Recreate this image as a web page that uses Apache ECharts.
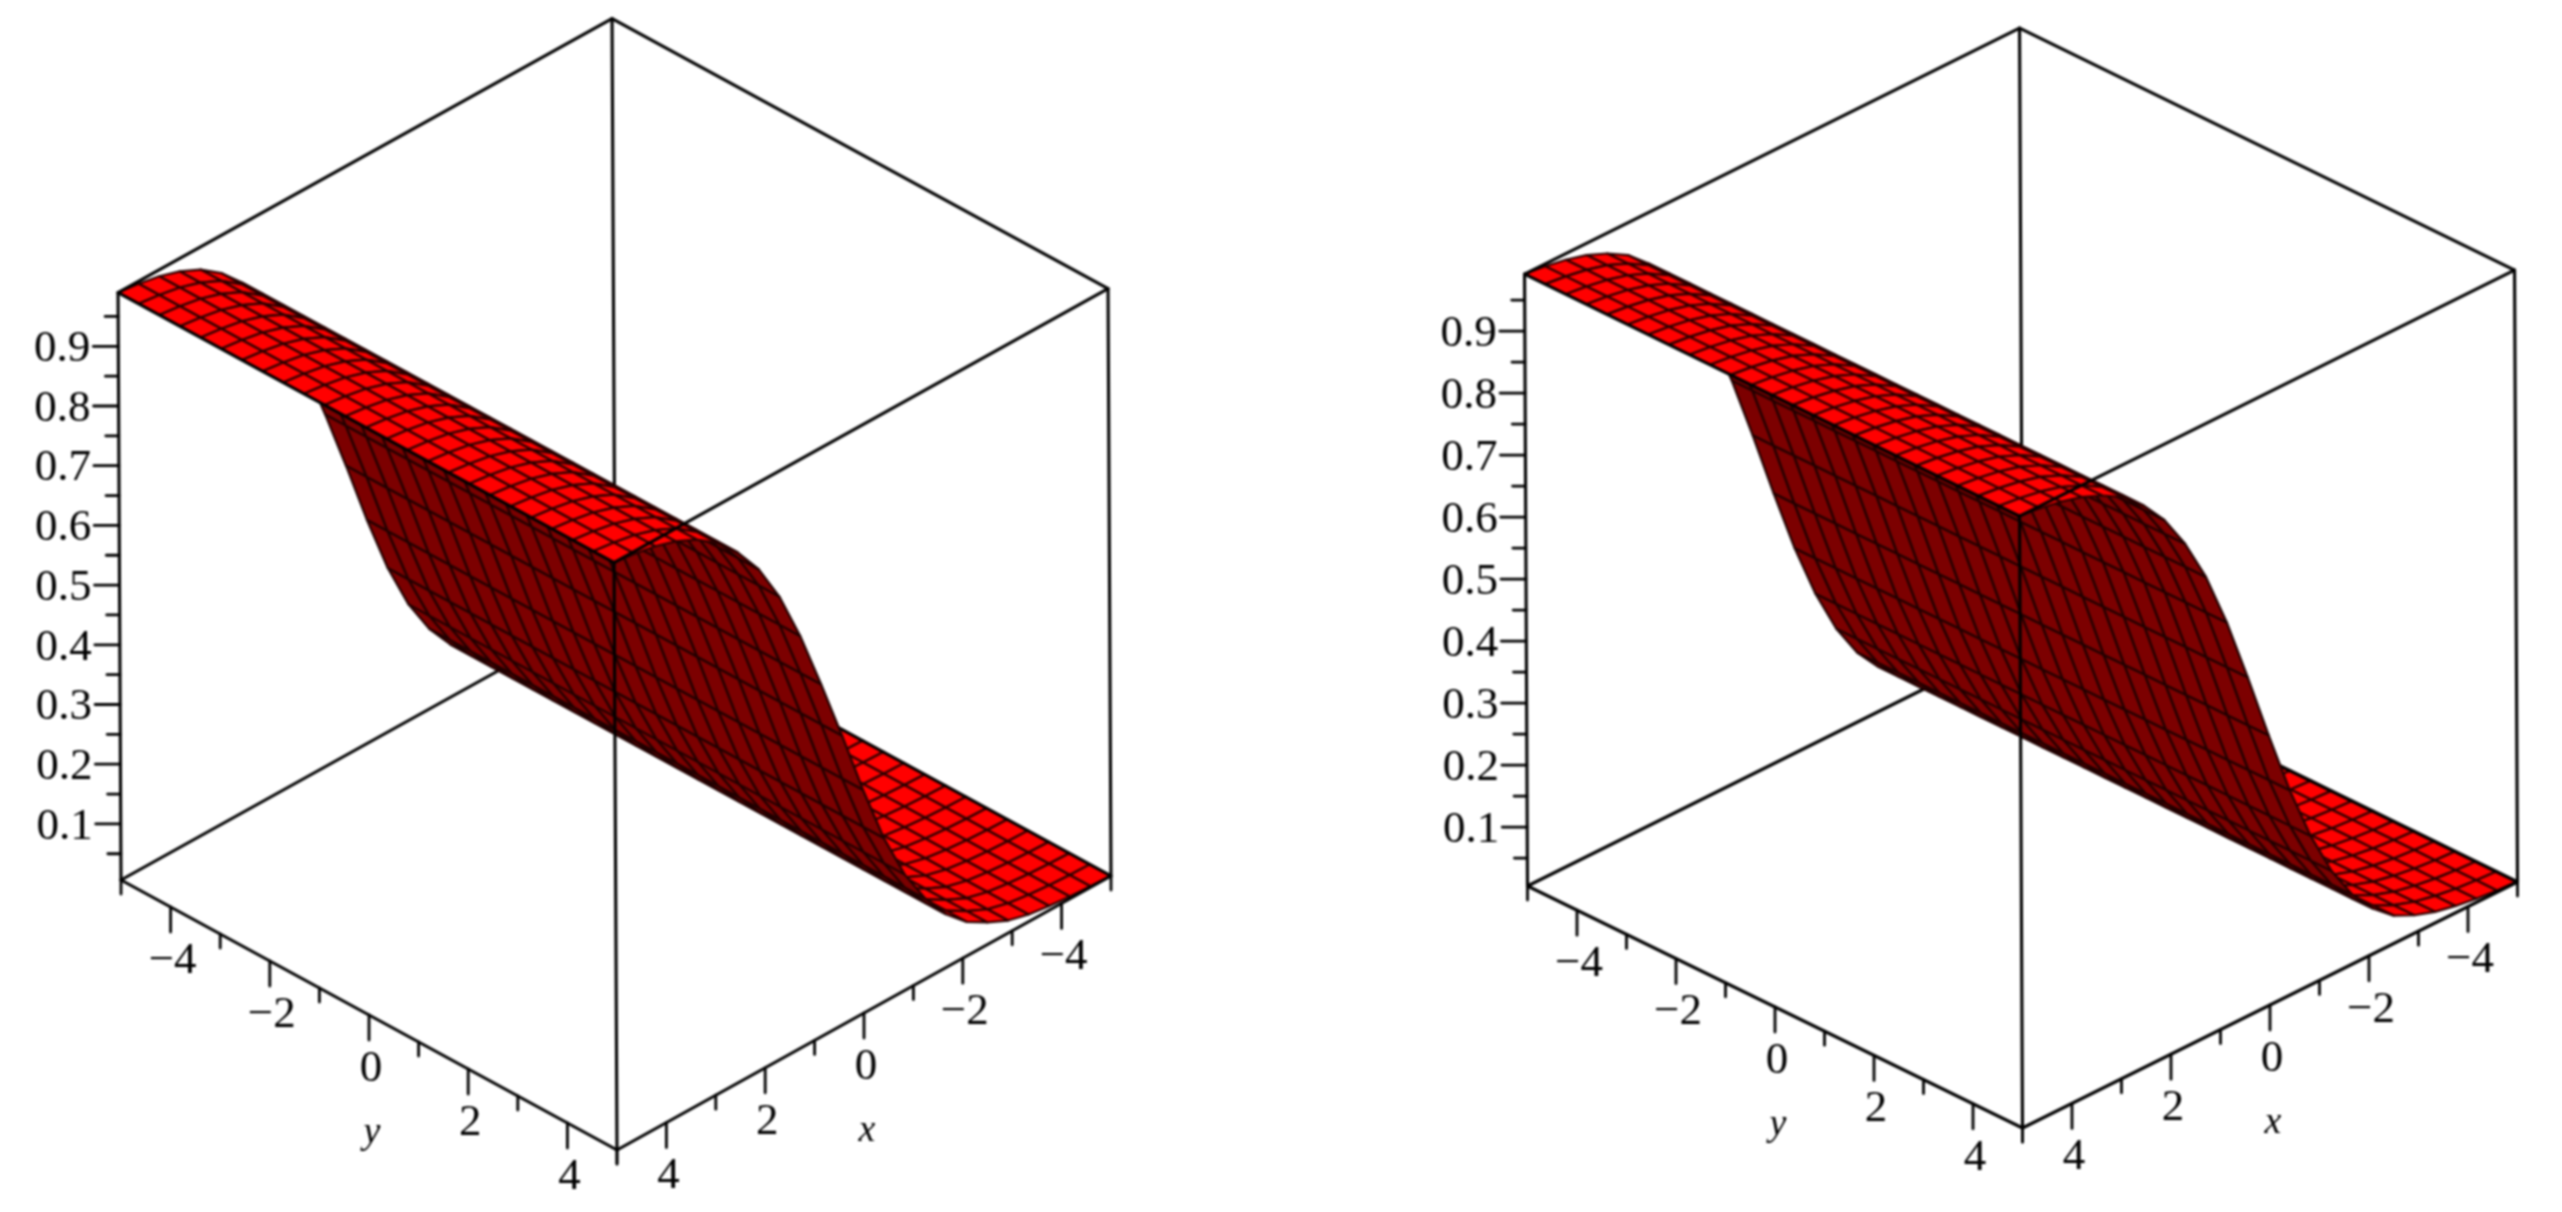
<!DOCTYPE html>
<html><head><meta charset="utf-8">
<style>html,body{margin:0;padding:0;background:#fff;overflow:hidden}#c{width:2562px;height:1212px;filter:blur(0.9px)}</style>
<script src="https://cdn.jsdelivr.net/npm/echarts@6/dist/echarts.min.js"></script>
</head><body><div id="c"></div>
<script>
// ---- values ----
const xGrid = [-5,-4.583,-4.167,-3.75,-3.333,-2.917,-2.5,-2.083,-1.667,-1.25,-0.833,-0.417,0,0.417,0.833,1.25,1.667,2.083,2.5,2.917,3.333,3.75,4.167,4.583,5];
const yGrid = [-5,-4.583,-4.167,-3.75,-3.333,-2.917,-2.5,-2.083,-1.667,-1.25,-0.833,-0.417,0,0.417,0.833,1.25,1.667,2.083,2.5,2.917,3.333,3.75,4.167,4.583,5];
const zLeft  = [0.007,0.008,0.010,0.013,0.018,0.027,0.043,0.063,0.095,0.140,0.200,0.280,0.380,0.490,0.595,0.695,0.780,0.845,0.892,0.927,0.952,0.968,0.979,0.9855,0.990];
const zRight = [0.006,0.008,0.011,0.016,0.023,0.034,0.050,0.078,0.117,0.172,0.245,0.335,0.440,0.550,0.655,0.745,0.815,0.870,0.910,0.940,0.959,0.973,0.982,0.988,0.992];
const zMajor = [0.1,0.2,0.3,0.4,0.5,0.6,0.7,0.8,0.9];
const zMinor = [0.05,0.15,0.25,0.35,0.45,0.55,0.65,0.75,0.85,0.95];
const hMajor = [-4,-2,0,2,4];
const hMinor = [-5,-3,-1,1,3,5];

// ---- view of each box on the page ----
const views = [
  {F:[617,1150],L:[121,880],R:[1111,876],zs:[-3,-597],z0:0.006,z1:0.990,prof:zLeft},
  {F:[2022.5,1128],L:[1527.5,886],R:[2517.5,882],zs:[-3,-620],z0:0.005,z1:0.992,prof:zRight}
];
const MAJ=25, MIN=14, ZMAJ=25, ZMIN=13, LBL=[2,54], TITLE=[3,118];

function projector(v){
  const ax=[(v.R[0]-v.F[0])/10,(v.R[1]-v.F[1])/10], ay=[(v.L[0]-v.F[0])/10,(v.L[1]-v.F[1])/10];
  return (x,y,z)=>[v.F[0]+(5-x)*ax[0]+(5-y)*ay[0]+(z-v.z0)*v.zs[0],
                   v.F[1]+(5-x)*ax[1]+(5-y)*ay[1]+(z-v.z0)*v.zs[1]];
}
const series=[];
function segSeries(segs,z,width){
  series.push({type:'custom',coordinateSystem:'cartesian2d',silent:true,z:z,clip:false,animation:false,
    data:segs,
    renderItem(p,api){
      const a=api.coord([api.value(0),api.value(1)]), b=api.coord([api.value(2),api.value(3)]);
      return {type:'line',shape:{x1:a[0],y1:a[1],x2:b[0],y2:b[1]},style:{stroke:'#000',lineWidth:api.value(4)||width,lineCap:'round'}};
    }});
}
views.forEach(v=>{
  const P=projector(v), t=v.z1, b=v.z0;
  const corners={F:[5,5],L:[5,-5],R:[-5,5],B:[-5,-5]};
  const C=(k,z)=>P(corners[k][0],corners[k][1],z);
  const seg=(a,c,w)=>[a[0],a[1],c[0],c[1],w||3.1];
  // back edges, under the surface
  segSeries([seg(C('B',b),C('L',b)),seg(C('B',b),C('B',t))],1);
  // surface painted back to front
  const cells=[];
  for(let i=0;i<xGrid.length-1;i++){
    for(let j=0;j<yGrid.length-1;j++){
      const a=P(xGrid[i],yGrid[j],v.prof[i]),c=P(xGrid[i+1],yGrid[j],v.prof[i+1]),
            d=P(xGrid[i+1],yGrid[j+1],v.prof[i+1]),e=P(xGrid[i],yGrid[j+1],v.prof[i]);
      cells.push([a[0],a[1],c[0],c[1],d[0],d[1],e[0],e[1],0]);
    }
    if(i===0){ const s=C('B',b),r=C('R',b); cells.push([s[0],s[1],r[0],r[1],s[0],s[1],r[0],r[1],1]); }
  }
  const refArea=(()=>{const a=P(-5,-5,0),c=P(-4,-5,0),d=P(-4,-4,0);return Math.sign((c[0]-a[0])*(d[1]-a[1])-(c[1]-a[1])*(d[0]-a[0]));})();
  series.push({type:'custom',coordinateSystem:'cartesian2d',silent:true,z:2,clip:false,animation:false,data:cells,
    renderItem(p,api){
      const pts=[0,2,4,6].map(k=>api.coord([api.value(k),api.value(k+1)]));
      if(api.value(8)===1) return {type:'line',shape:{x1:pts[0][0],y1:pts[0][1],x2:pts[1][0],y2:pts[1][1]},style:{stroke:'#000',lineWidth:3.1}};
      const area=(pts[1][0]-pts[0][0])*(pts[2][1]-pts[0][1])-(pts[1][1]-pts[0][1])*(pts[2][0]-pts[0][0]);
      const top=Math.sign(area)===refArea;
      return {type:'polygon',shape:{points:pts},style:{fill:top?'#ff0000':'#7c0000',stroke:top?'#280000':'#200000',lineWidth:2.2,lineJoin:'round'}};
    }});
  // front edges and ticks
  const front=[seg(C('L',t),C('B',t)),seg(C('R',t),C('B',t)),seg(C('L',t),C('F',t)),seg(C('R',t),C('F',t)),
    seg(C('L',t),C('L',b)),seg(C('R',t),C('R',b)),seg(C('F',t),C('F',b)),seg(C('L',b),C('F',b)),seg(C('R',b),C('F',b))];
  const down=(p,len)=>seg(p,[p[0],p[1]+len],2.8);
  const left=(p,len)=>seg(p,[p[0]-len,p[1]],2.8);
  hMajor.forEach(h=>{front.push(down(P(5,h,b),MAJ));front.push(down(P(h,5,b),MAJ));});
  hMinor.forEach(h=>{front.push(down(P(5,h,b),MIN));front.push(down(P(h,5,b),MIN));});
  zMajor.forEach(z=>front.push(left(P(5,-5,z),ZMAJ)));
  zMinor.forEach(z=>front.push(left(P(5,-5,z),ZMIN)));
  segSeries(front,3);
  // text
  const texts=[];
  zMajor.forEach(z=>{const p=P(5,-5,z);texts.push({x:p[0]-28,y:p[1]+3,s:z.toFixed(1),a:'right',st:'normal',fs:45});});
  const lab=h=>h<0?'\u2212'+(-h):String(h);
  hMajor.forEach(h=>{
    let p=P(5,h,b);texts.push({x:p[0]+LBL[0],y:p[1]+LBL[1],s:lab(h),a:'center',st:'normal',fs:45});
    p=P(h,5,b);texts.push({x:p[0]+LBL[0],y:p[1]+LBL[1],s:lab(h),a:'center',st:'normal',fs:45});
  });
  let q=P(5,0,b);texts.push({x:q[0]+TITLE[0],y:q[1]+TITLE[1],s:'y',a:'center',st:'italic',fs:38});
  q=P(0,5,b);texts.push({x:q[0]+TITLE[0],y:q[1]+TITLE[1],s:'x',a:'center',st:'italic',fs:38});
  series.push({type:'custom',coordinateSystem:'cartesian2d',silent:true,z:4,clip:false,animation:false,
    data:texts.map(o=>[o.x,o.y]),
    renderItem(p,api){
      const o=texts[p.dataIndex],c=api.coord([api.value(0),api.value(1)]);
      return {type:'text',x:c[0],y:c[1],style:{text:o.s,fill:'#000',align:o.a,verticalAlign:'middle',
        font:o.st+' '+o.fs+'px "Liberation Serif"'}};
    }});
});
const chart=echarts.init(document.getElementById('c'),null,{width:2562,height:1212});
chart.setOption({animation:false,backgroundColor:'#fff',
  grid:{left:0,top:0,width:2562,height:1212},
  xAxis:{type:'value',min:0,max:2562,show:false},
  yAxis:{type:'value',min:0,max:1212,inverse:true,show:false},
  series});
</script></body></html>
